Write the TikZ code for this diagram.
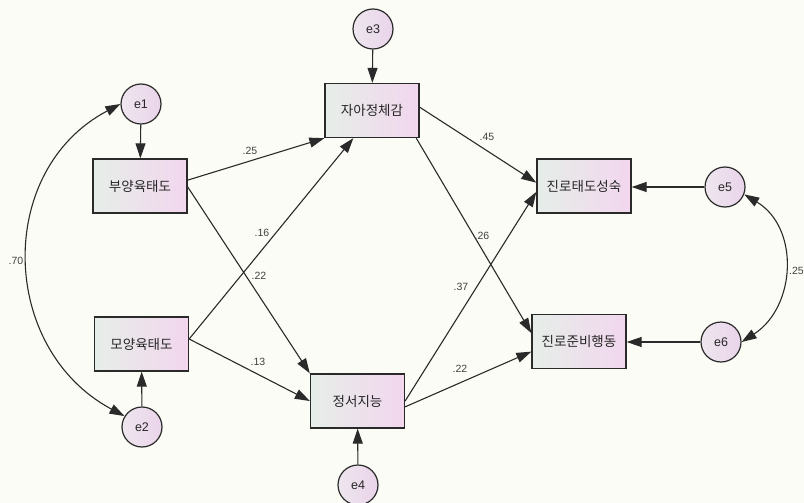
\documentclass[tikz,border=0pt]{standalone}
\usepackage{fontspec}
\setmainfont{Liberation Sans}
\newfontfamily\kor{Noto Sans CJK KR}
\usetikzlibrary{arrows.meta}
\definecolor{bg}{HTML}{FCFCF6}
\definecolor{boxL}{HTML}{E6EEE8}
\definecolor{boxR}{HTML}{F2D6EE}
\definecolor{errL}{HTML}{EEE6EE}
\definecolor{errR}{HTML}{EAD4EA}
\definecolor{ink}{HTML}{2A2A2A}
\begin{document}
\begin{tikzpicture}[x=1pt,y=-1pt,
  obs/.style={draw=ink, line width=1.3pt, minimum width=94pt, minimum height=54pt,
    left color=boxL, right color=boxR, inner sep=0pt,
    font=\kor\fontsize{13.5}{15}\selectfont, text=black!85},
  err/.style={circle, draw=ink, line width=1.2pt, minimum size=40pt, inner sep=0pt,
    left color=errL, right color=errR, font=\fontsize{12.5}{14}\selectfont, text=black!85},
  tip/.tip={Triangle[length=15pt,width=10pt]},
  reg/.style={-tip, line width=1.1pt, draw=ink},
  cov/.style={tip-tip, line width=1.1pt, draw=ink},
  coef/.style={font=\fontsize{10.5}{12}\selectfont, text=black!75, inner sep=0pt}
]
% canvas
\fill[bg] (0,0) rectangle (804,503);
\useasboundingbox (0,0) rectangle (804,503);

% observed variables
\node[obs] (bu)    at (140,186)   {부양육태도};
\node[obs] (mo)    at (141.5,344) {모양육태도};
\node[obs] (ja)    at (372,110.5) {자아정체감};
\node[obs] (jeong) at (357.5,401) {정서지능};
\node[obs] (jt)    at (584,186)   {진로태도성숙};
\node[obs] (jj)    at (579,341.5) {진로준비행동};

% error terms
\node[err] (e1) at (141,104) {e1};
\node[err] (e2) at (142,427) {e2};
\node[err] (e3) at (373,29)  {e3};
\node[err] (e4) at (358,485) {e4};
\node[err] (e5) at (725,187) {e5};
\node[err] (e6) at (721,342) {e6};

% error paths
\draw[reg] (e1) -- (bu);
\draw[reg] (e2) -- (mo);
\draw[reg] (e3) -- (ja);
\draw[reg] (e4) -- (jeong);
\draw[reg] (e5) -- (jt.east |- e5);
\draw[reg] (e6) -- (jj.east |- e6);

% structural paths
\draw[reg] (bu.7)      -- (ja.south west);
\draw[reg] (mo.6)      -- (ja.236);
\draw[reg] (bu.-1)     -- (jeong.north west);
\draw[reg] (mo.6)      -- (jeong.west);
\draw[reg] (ja.4)      -- (jt.176);
\draw[reg] (ja.-32)    -- (jj.170);
\draw[reg] (jeong.east) -- (jt.187);
\draw[reg] (jeong.-7)  -- (jj.192);

% covariances
\draw[cov] (e1.west) .. controls (-5,170) and (-1,349) .. (e2.148);
\draw[cov] (e5.-21) .. controls (800,228) and (796,307) .. (e6.east);

% coefficients
\node[coef] at (250,151) {.25};
\node[coef] at (262,233) {.16};
\node[coef] at (259,276) {.22};
\node[coef] at (258,362) {.13};
\node[coef] at (487,137) {.45};
\node[coef] at (482,236) {.26};
\node[coef] at (461,287) {.37};
\node[coef] at (460,369) {.22};
\node[coef] at (16,261)  {.70};
\node[coef, anchor=west] at (789,271) {.25};
\end{tikzpicture}
\end{document}
